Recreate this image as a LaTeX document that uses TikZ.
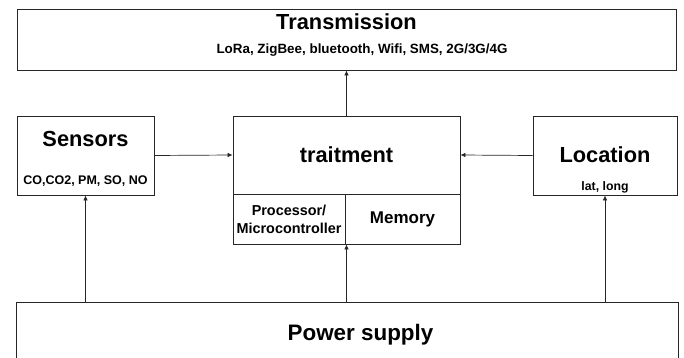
\documentclass[tikz,border=0pt]{standalone}
\usepackage{fontspec}
\setmainfont{Liberation Sans}
\usetikzlibrary{arrows.meta,calc}
\begin{document}
\begin{tikzpicture}[x=1pt,y=-1pt,
  box/.style={draw=black!85,line width=0.8pt,inner sep=0pt},
  title/.style={font=\bfseries\fontsize{21.8}{24}\selectfont,inner sep=0pt},
  sub/.style={font=\bfseries\fontsize{12.5}{14}\selectfont,inner sep=0pt},
  conn/.style={draw=black!85,line width=0.7pt,-{Latex[length=5pt,width=4.5pt]}}]
\useasboundingbox (0,0) rectangle (684,358);
% boxes
\node[box,minimum width=659pt,minimum height=61pt] (trans) at (346.5,39.5) {};
\node[title] (transT) at (346.5,22) {Transmission};
\node[sub,font=\bfseries\fontsize{13.4}{15}\selectfont] (transS) at (362,50) {LoRa, ZigBee, bluetooth, Wifi, SMS, 2G/3G/4G};
\node[box,minimum width=137pt,minimum height=79pt] (sens) at (85.5,155.5) {};
\node[title] (sensT) at (85.5,139) {Sensors};
\node[sub] (sensS) at (85.5,181) {CO,CO2, PM, SO, NO};
\node[box,minimum width=227pt,minimum height=78pt,title] (trait) at (346.5,155) {traitment};
\node[box,minimum width=112pt,minimum height=50pt,align=center,font=\bfseries\fontsize{14.4}{18}\selectfont] (proc) at (289,219) {Processor/\\Microcontroller};
\node[box,minimum width=115pt,minimum height=50pt,font=\bfseries\fontsize{17}{20}\selectfont] (mem) at (402.5,219) {Memory};
\node[box,minimum width=144pt,minimum height=79pt] (loc) at (605,155.5) {};
\node[title] (locT) at (605,155) {Location};
\node[sub,font=\bfseries\fontsize{12.3}{14}\selectfont] (locS) at (605,187) {lat, long};
\node[minimum width=661pt,minimum height=70pt,inner sep=0pt] (power) at (347.5,338) {};
\draw[draw=black!85,line width=0.8pt] (power.south west) -- (power.north west) -- (power.north east) -- (power.south east);
\node[title,font=\bfseries\fontsize{22.4}{25}\selectfont] (powerT) at (360.5,334.5) {Power supply};
% connectors
\draw[conn] (trait.north) -- (trans.south);
\draw[conn] (sens.east) -- (trait.west);
\draw[conn] (loc.west) -- (trait.east);
\draw[conn] (power.north -| sens.south) -- (sens.south);
\draw[conn] (power.north -| trait.south) -- (trait.south |- proc.south);
\draw[conn] (power.north -| loc.south) -- (loc.south);
\end{tikzpicture}
\end{document}
